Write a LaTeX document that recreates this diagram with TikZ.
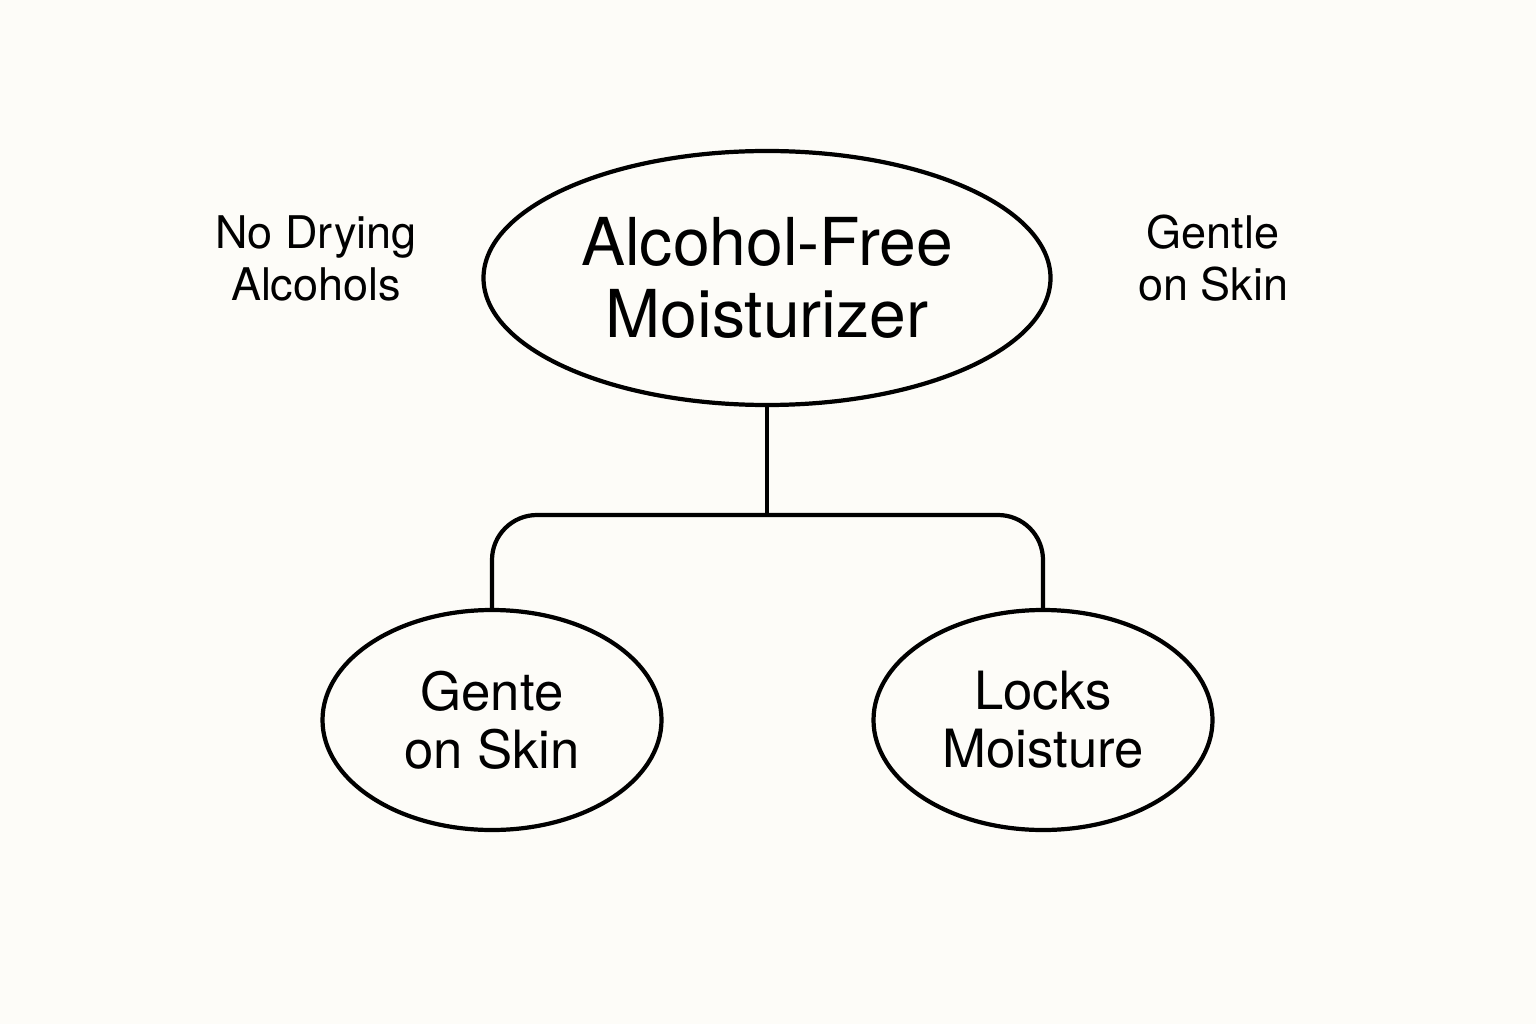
\documentclass[tikz,border=0pt]{standalone}
\usepackage{fontspec}
\setmainfont{TeX Gyre Heros}
\usetikzlibrary{shapes.geometric}
\definecolor{paper}{RGB}{253,252,248}

\begin{document}
\begin{tikzpicture}
[every node/.style={inner sep=0mm,outer sep=0mm,align=center},
 main/.style={ellipse,draw=black,line width=1.2pt,minimum width=56.7mm,minimum height=25.4mm,
              font=\fontsize{18.8}{20.5}\selectfont},
 leaf/.style={ellipse,draw=black,line width=1.2pt,minimum width=33.9mm,minimum height=22mm,
              font=\fontsize{15}{16.5}\selectfont},
 note/.style={font=\fontsize{12.8}{14.8}\selectfont},
 link/.style={line width=1.2pt,rounded corners=4.5mm}]
\useasboundingbox[fill=paper] (0,0) rectangle (15.36,10.24);

\node[main] (moist) at (7.67,7.46) {Alcohol-Free\\Moisturizer};
\node[leaf] (gente) at (4.92,3.04) {Gente\\on Skin};
\node[leaf] (locks) at (10.43,3.04) {Locks\\Moisture};
\node[note] (nodry)  at (3.16,7.66) {No Drying\\Alcohols};
\node[note] (gentle) at (12.13,7.66) {Gentle\\on Skin};

\coordinate (fork) at (7.67,5.09);
\draw[link] (moist.south) -- (fork);
\draw[link] (gente.north) |- (fork) -| (locks.north);
\end{tikzpicture}
\end{document}
